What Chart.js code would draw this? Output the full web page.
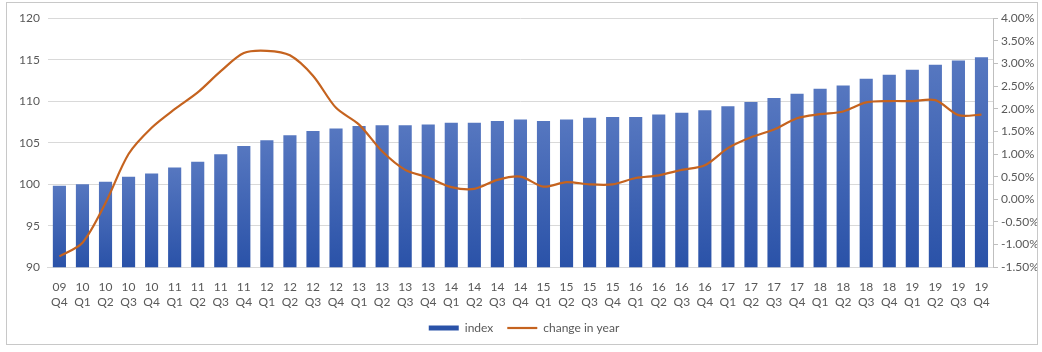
<!DOCTYPE html>
<html>
<head>
<meta charset="utf-8">
<script src="https://cdn.jsdelivr.net/npm/chart.js@4"></script>
<style>
  html, body { margin: 0; padding: 0; background: #fff; }
  #frame {
    position: absolute; left: 6px; top: 2px; width: 1032px; height: 343px;
    border: 1px solid #c8c8c8; box-sizing: border-box;
  }
  #chart { display: block; }
</style>
</head>
<body>
<div id="frame"><canvas id="chart" width="1030" height="341"></canvas></div>
<script>
const quarters = [
  "09 Q4", "10 Q1", "10 Q2", "10 Q3", "10 Q4", "11 Q1", "11 Q2", "11 Q3", "11 Q4",
  "12 Q1", "12 Q2", "12 Q3", "12 Q4", "13 Q1", "13 Q2", "13 Q3", "13 Q4",
  "14 Q1", "14 Q2", "14 Q3", "14 Q4", "15 Q1", "15 Q2", "15 Q3", "15 Q4",
  "16 Q1", "16 Q2", "16 Q3", "16 Q4", "17 Q1", "17 Q2", "17 Q3", "17 Q4",
  "18 Q1", "18 Q2", "18 Q3", "18 Q4", "19 Q1", "19 Q2", "19 Q3", "19 Q4"
];

const indexValues = [
  99.8, 100.0, 100.3, 100.9, 101.3, 102.0, 102.7, 103.6, 104.6,
  105.3, 105.9, 106.4, 106.7, 107.0, 107.1, 107.1, 107.2,
  107.4, 107.4, 107.6, 107.8, 107.6, 107.8, 108.0, 108.1,
  108.1, 108.4, 108.6, 108.9, 109.4, 109.9, 110.4, 110.9,
  111.5, 111.9, 112.7, 113.2, 113.8, 114.4, 114.9, 115.3
];

// percent
const changeInYear = [
  -1.26, -0.96, -0.08, 1.00, 1.58, 1.99, 2.36, 2.83, 3.23,
  3.28, 3.18, 2.73, 2.02, 1.65, 1.06, 0.65, 0.48,
  0.27, 0.23, 0.43, 0.50, 0.28, 0.38, 0.33, 0.33,
  0.47, 0.53, 0.65, 0.75, 1.13, 1.37, 1.54, 1.79,
  1.88, 1.94, 2.14, 2.17, 2.17, 2.19, 1.86, 1.87
];

const leftTicks = { min: 90, max: 120, step: 5 };
const rightTicks = { min: -1.5, max: 4, step: 0.5 };

const textColor = "#595959";
Chart.defaults.font.family = "Lato, 'Open Sans', sans-serif";
Chart.defaults.font.size = 12;
Chart.defaults.color = textColor;

function barFill(context) {
  const chart = context.chart;
  if (context.type !== "data" || !chart.chartArea) return "#3d64b4";
  const y = chart.scales.y;
  const top = y.getPixelForValue(context.raw);
  const bottom = y.getPixelForValue(y.min);
  const g = chart.ctx.createLinearGradient(0, top, 0, bottom);
  g.addColorStop(0, "#5677c0");
  g.addColorStop(1, "#2a52a8");
  return g;
}

new Chart(document.getElementById("chart"), {
  data: {
    labels: quarters.map(q => q.split(" ")),
    datasets: [
      {
        type: "line",
        label: "change in year",
        data: changeInYear,
        yAxisID: "y2",
        borderColor: "#c5631f",
        backgroundColor: "#c5631f",
        borderWidth: 2.2,
        pointRadius: 0,
        pointStyle: "line",
        tension: 0.3,
        order: 0
      },
      {
        type: "bar",
        label: "index",
        data: indexValues,
        yAxisID: "y",
        backgroundColor: barFill,
        borderWidth: 0,
        pointStyle: "rect",
        barPercentage: 0.57,
        categoryPercentage: 1,
        order: 1
      }
    ]
  },
  options: {
    responsive: false,
    animation: false,
    layout: { padding: { left: 4, right: 0, top: 10, bottom: 0 } },
    plugins: {
      tooltip: { enabled: false },
      legend: {
        position: "bottom",
        reverse: true,
        labels: {
          usePointStyle: true,
          pointStyleWidth: 30,
          boxHeight: 5,
          padding: 8,
          font: { size: 12 },
          generateLabels(chart) {
            const items = Chart.defaults.plugins.legend.labels.generateLabels(chart);
            // a little extra room after the first entry, like the original
            items.forEach(it => { if (it.text === "index") it.text = "index\u2002"; });
            return items;
          }
        }
      }
    },
    scales: {
      x: {
        grid: { display: false },
        border: { color: "#d9d9d9" },
        ticks: { maxRotation: 0, autoSkip: false, padding: 5 }
      },
      y: {
        position: "left",
        min: leftTicks.min,
        max: leftTicks.max,
        ticks: { stepSize: leftTicks.step, padding: 8 },
        grid: { color: "#d9d9d9", drawTicks: false },
        border: { display: false }
      },
      y2: {
        position: "right",
        min: rightTicks.min,
        max: rightTicks.max,
        ticks: {
          stepSize: rightTicks.step,
          padding: 3,
          callback: v => v.toFixed(2) + "%"
        },
        grid: { drawOnChartArea: false, color: "#bfbfbf", tickLength: 5 },
        border: { color: "#bfbfbf" },
        afterFit(scale) { scale.width = 44; }
      }
    }
  }
});
</script>
</body>
</html>
